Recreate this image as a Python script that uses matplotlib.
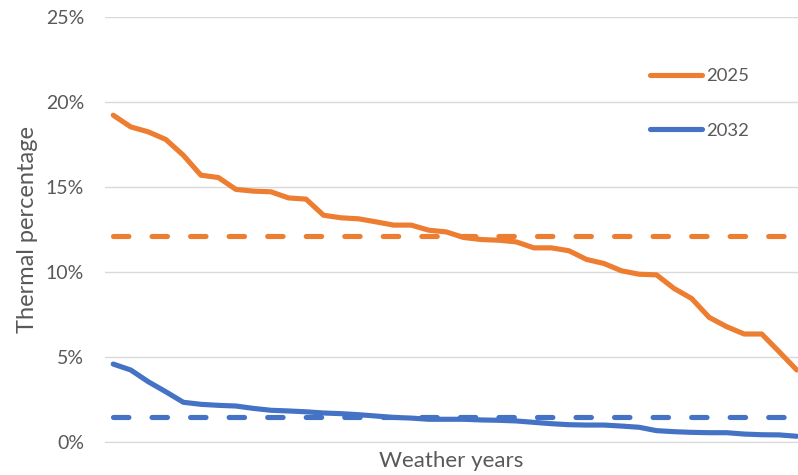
import numpy as np
import matplotlib
matplotlib.use("Agg")
import matplotlib.pyplot as plt
from matplotlib.ticker import FuncFormatter

# thermal share per weather year, sorted high to low (%)
thermal_2025 = [19.22, 18.53, 18.24, 17.79, 16.86, 15.69, 15.55, 14.85, 14.75, 14.71,
                14.35, 14.28, 13.33, 13.18, 13.12, 12.94, 12.75, 12.75, 12.45, 12.35,
                12.02, 11.90, 11.86, 11.76, 11.41, 11.41, 11.24, 10.73, 10.49, 10.06,
                9.86, 9.82, 9.02, 8.43, 7.32, 6.77, 6.34, 6.34, 5.29, 4.22]
thermal_2032 = [4.57, 4.22, 3.53, 2.94, 2.32, 2.20, 2.14, 2.10, 1.96, 1.85,
                1.81, 1.76, 1.69, 1.65, 1.59, 1.51, 1.43, 1.39, 1.32, 1.32,
                1.32, 1.28, 1.26, 1.22, 1.14, 1.06, 1.00, 0.98, 0.98, 0.92,
                0.85, 0.65, 0.59, 0.55, 0.53, 0.53, 0.45, 0.41, 0.40, 0.32]
avg_2025 = 12.1
avg_2032 = 1.47
yticks = [0, 5, 10, 15, 20, 25]

orange, blue, grey = "#ed7d31", "#4472c4", "#595959"
plt.rcParams["font.family"] = ["Lato", "DejaVu Sans"]

n = len(thermal_2025)
x = np.arange(n)

fig = plt.figure(figsize=(7.98, 4.75), dpi=100)
ax = fig.add_axes([105/798, 33.3/475, 1 - 105/798, (441.7 - 17)/475])

lw = 3.7
ax.plot(x, thermal_2025, color=orange, lw=lw, solid_capstyle="round", solid_joinstyle="round", label="2025", zorder=3)
ax.plot(x, thermal_2032, color=blue, lw=lw, solid_capstyle="round", solid_joinstyle="round", label="2032", zorder=3)
ax.plot(x, np.full(n, avg_2025), color=orange, lw=lw, dashes=(3.0, 4.5), dash_capstyle="round", zorder=2)
ax.plot(x, np.full(n, avg_2032), color=blue, lw=lw, dashes=(3.0, 4.5), dash_capstyle="round", zorder=2)

ax.set_xlim(-0.47, 39.07)
ax.set_ylim(0, 25)
ax.set_yticks(yticks)
ax.yaxis.set_major_formatter(FuncFormatter(lambda v, p: f"{v:.0f}%"))
ax.set_xticks([])
ax.grid(axis="y", color="#d9d9d9", lw=1.0)
ax.set_axisbelow(True)
for s in ["top", "right", "left"]:
    ax.spines[s].set_visible(False)
ax.spines["bottom"].set_color("#d9d9d9")
ax.tick_params(axis="y", length=0, pad=15, labelsize=14, labelcolor=grey)
ax.set_ylabel("Thermal percentage", fontsize=17, color=grey, labelpad=6)
ax.set_xlabel("Weather years", fontsize=16, color=grey, labelpad=7)

leg = ax.legend(loc="upper left", bbox_to_anchor=(650/798, 1 - 68/475), bbox_transform=fig.transFigure,
                frameon=False, fontsize=13.3, handlelength=2.8, handletextpad=0.25, labelspacing=2.1,
                borderpad=0, borderaxespad=0)
for t in leg.get_texts():
    t.set_color(grey)

fig.savefig("out.png", dpi=100, facecolor="white")
